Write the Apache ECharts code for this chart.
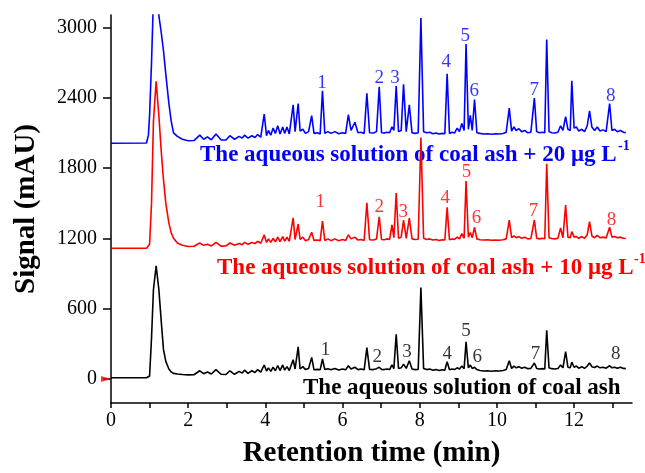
<!DOCTYPE html>
<html>
<head>
<meta charset="utf-8">
<script src="https://cdn.jsdelivr.net/npm/echarts@6/dist/echarts.min.js"></script>
<style>
  html, body { margin: 0; padding: 0; background: #fff; }
  #chart { width: 645px; height: 473px; }
</style>
</head>
<body>
<div id="chart"></div>
<script>
// retention time (min), shared by the three traces
var rt = [
  0, 0.92, 0.97, 1.0, 1.05, 1.1, 1.17, 1.24, 1.3, 1.36, 1.42, 1.5, 1.56, 1.62, 1.72, 1.85,
  2.0, 2.15, 2.3, 2.4, 2.5, 2.6, 2.72, 2.85, 2.98, 3.08, 3.2, 3.32, 3.4, 3.46, 3.55, 3.65, 3.73, 3.8, 3.88,
  3.97, 4.03, 4.08, 4.14, 4.2, 4.26, 4.32, 4.38, 4.45, 4.5, 4.56, 4.62, 4.72, 4.77, 4.85, 4.9, 4.97,
  5.04, 5.12, 5.2, 5.26, 5.35, 5.42, 5.48, 5.54, 5.62, 5.7, 5.8, 5.9, 6.0, 6.08, 6.15, 6.22, 6.32,
  6.4, 6.48, 6.56, 6.63, 6.7, 6.8, 6.88, 6.95, 7.01, 7.08, 7.15, 7.22, 7.28, 7.33, 7.39, 7.45, 7.52,
  7.58, 7.65, 7.73, 7.8, 7.88, 7.96, 8.03, 8.1, 8.18, 8.26, 8.34, 8.42, 8.5, 8.58, 8.65, 8.71, 8.77,
  8.84, 8.9, 8.97, 9.03, 9.09, 9.15, 9.2, 9.26, 9.31, 9.36, 9.42, 9.48, 9.56, 9.66, 9.76, 9.86, 9.96,
  10.06, 10.16, 10.24, 10.32, 10.38, 10.44, 10.5, 10.57, 10.64, 10.72, 10.8, 10.88, 10.97, 11.03, 11.1,
  11.18, 11.24, 11.29, 11.35, 11.42, 11.5, 11.58, 11.65, 11.71, 11.78, 11.84, 11.9, 11.94, 12.0, 12.06,
  12.12, 12.2, 12.27, 12.34, 12.4, 12.46, 12.53, 12.6, 12.67, 12.75, 12.83, 12.92, 12.98, 13.05, 13.12,
  13.2, 13.28, 13.34
];
// coal ash + 20 ug/L (blue)
var blue = [
  2011, 2013, 2080, 2250, 2700, 3250, 3450, 3100, 2960, 2800, 2600, 2350, 2200, 2100, 2070, 2045,
  2032, 2034, 2080, 2045, 2065, 2040, 2090, 2040, 2038, 2075, 2045, 2070, 2055, 2080, 2055, 2075, 2060, 2085, 2062,
  2260, 2075, 2120, 2080, 2140, 2095, 2160, 2090, 2150, 2095, 2150, 2090, 2339, 2110, 2350, 2115, 2130,
  2095, 2110, 2246, 2095, 2100, 2090, 2458, 2095, 2110, 2095, 2110, 2092, 2100, 2095, 2254, 2120, 2190,
  2100, 2105, 2095, 2438, 2100, 2098, 2110, 2492, 2100, 2098, 2105, 2100, 2151, 2120, 2500, 2110, 2120,
  2514, 2110, 2339, 2100, 2095, 2100, 3079, 2110, 2100, 2105, 2092, 2098, 2090, 2095, 2092, 2604, 2095,
  2105, 2098, 2140, 2110, 2180, 2120, 2858, 2130, 2249, 2120, 2384, 2100, 2095, 2090, 2092, 2088, 2092,
  2090, 2094, 2105, 2311, 2115, 2150, 2120, 2135, 2110, 2120, 2100, 2105, 2396, 2110, 2100,
  2105, 2100, 2896, 2110, 2100, 2098, 2105, 2160, 2120, 2237, 2130, 2120, 2543, 2140, 2150,
  2115, 2130, 2110, 2160, 2288, 2150, 2120, 2150, 2115, 2125, 2110, 2350, 2120, 2130, 2110,
  2120, 2105, 2100
];
// coal ash + 10 ug/L (red)
var red = [
  1115, 1115, 1120, 1150, 1500, 2200, 2540, 2250, 1950, 1700, 1500, 1330, 1246, 1200, 1160, 1140,
  1130, 1132, 1160, 1140, 1150, 1135, 1165, 1133, 1135, 1160, 1140, 1155, 1145, 1165, 1150, 1165, 1155, 1175, 1158,
  1229, 1165, 1195, 1165, 1200, 1170, 1210, 1172, 1215, 1175, 1210, 1175, 1375, 1190, 1322, 1190, 1210,
  1180, 1190, 1252, 1182, 1185, 1180, 1347, 1182, 1195, 1180, 1195, 1180, 1190, 1182, 1229, 1195, 1210,
  1185, 1190, 1182, 1503, 1188, 1185, 1195, 1384, 1190, 1188, 1195, 1190, 1314, 1205, 1587, 1200, 1210,
  1356, 1200, 1373, 1195, 1190, 1192, 2060, 1200, 1190, 1195, 1185, 1190, 1182, 1188, 1185, 1464, 1188,
  1195, 1190, 1210, 1195, 1240, 1200, 1689, 1210, 1250, 1205, 1294, 1195, 1188, 1185, 1187, 1183, 1186,
  1184, 1188, 1195, 1356, 1205, 1220, 1205, 1215, 1200, 1210, 1195, 1198, 1356, 1200, 1195,
  1200, 1196, 1836, 1205, 1198, 1195, 1200, 1288, 1205, 1483, 1210, 1205, 1257, 1210, 1215,
  1200, 1215, 1200, 1230, 1342, 1220, 1205, 1225, 1205, 1210, 1202, 1294, 1210, 1215, 1205,
  1210, 1200, 1198
];
// coal ash solution (black)
var black = [
  10, 10, 14, 25, 350, 763, 965, 763, 500, 250, 150, 85, 60, 48, 42, 38,
  35, 36, 70, 45, 60, 42, 80, 40, 38, 70, 40, 65, 50, 75, 48, 70, 55, 80, 58,
  119, 68, 95, 65, 100, 70, 115, 72, 120, 75, 105, 72, 164, 85, 274, 85, 105,
  80, 90, 184, 78, 82, 78, 170, 80, 88, 78, 90, 76, 85, 78, 113, 85, 100,
  80, 85, 78, 268, 82, 80, 88, 100, 82, 80, 85, 80, 120, 88, 381, 90, 95,
  127, 90, 155, 85, 80, 82, 780, 90, 80, 85, 75, 80, 72, 78, 75, 147, 78,
  85, 80, 95, 85, 110, 88, 316, 95, 119, 90, 100, 80, 72, 68, 70, 66, 70,
  68, 72, 80, 155, 90, 110, 95, 105, 92, 100, 88, 90, 136, 90, 85,
  88, 85, 415, 95, 88, 85, 90, 120, 95, 234, 100, 95, 144, 100, 110,
  92, 105, 90, 110, 136, 105, 98, 110, 95, 100, 92, 113, 95, 100, 92,
  100, 90, 88
];

// peak numbers and where they are written (time, signal)
var peakNames = ['1', '2', '3', '4', '5', '6', '7', '8'];
var blueLabelT = [5.47, 6.95, 7.36, 8.69, 9.18, 9.41, 10.97, 12.95];
var blueLabelV = [2525, 2568, 2568, 2704, 2924, 2458, 2466, 2415];
var redLabelT = [5.42, 6.95, 7.57, 8.66, 9.21, 9.47, 10.95, 12.97];
var redLabelV = [1509, 1466, 1424, 1542, 1763, 1373, 1432, 1356];
var blackLabelT = [5.56, 6.9, 7.67, 8.71, 9.2, 9.49, 11.0, 13.08];
var blackLabelV = [246, 186, 229, 212, 407, 186, 212, 212];

var yTicks = [0, 600, 1200, 1800, 2400, 3000];
var xLabels = [0, 2, 4, 6, 8, 10, 12];
var xTicks = [0, 1, 2, 3, 4, 5, 6, 7, 8, 9, 10, 11, 12, 13];

var serif = "'Liberation Serif', 'Times New Roman', serif";

function pairs(vals) {
  return rt.map(function (t, i) { return [t, vals[i]]; });
}
function labelData(ts, vs) {
  return peakNames.map(function (n, i) { return { name: n, value: [ts[i], vs[i]] }; });
}
function traceSeries(name, vals, color) {
  return {
    name: name,
    type: 'line',
    data: pairs(vals),
    symbol: 'none',
    smooth: false,
    clip: true,
    lineStyle: { color: color, width: 1.6 },
    silent: true
  };
}
function labelSeries(ts, vs, color) {
  return {
    type: 'scatter',
    data: labelData(ts, vs),
    symbolSize: 1,
    itemStyle: { color: 'rgba(0,0,0,0)' },
    silent: true,
    label: {
      show: true,
      position: 'inside',
      formatter: '{b}',
      color: color,
      fontFamily: serif,
      fontSize: 19
    }
  };
}

var myChart = echarts.init(document.getElementById('chart'));
myChart.setOption({
  animation: false,
  grid: { left: 111, right: 13, top: 15, bottom: 70 },
  xAxis: {
    type: 'value',
    min: 0,
    max: 13.5,
    name: 'Retention time (min)',
    nameLocation: 'middle',
    nameGap: 36,
    nameTextStyle: { fontFamily: serif, fontSize: 29, fontWeight: 'bold', color: '#000' },
    axisLine: { show: true, onZero: false, lineStyle: { color: '#000', width: 1.5 } },
    axisTick: { show: true, inside: false, length: 5, customValues: xTicks, lineStyle: { color: '#000', width: 1.5 } },
    axisLabel: { customValues: xLabels, margin: 8, fontFamily: serif, fontSize: 20, color: '#000' },
    splitLine: { show: false }
  },
  yAxis: {
    type: 'value',
    min: -205,
    max: 3105,
    name: 'Signal (mAU)',
    nameLocation: 'middle',
    nameGap: 70,
    nameTextStyle: { fontFamily: serif, fontSize: 29, fontWeight: 'bold', color: '#000' },
    axisLine: { show: true, onZero: false, lineStyle: { color: '#000', width: 1.5 } },
    axisTick: { show: true, inside: false, length: 8, customValues: yTicks, lineStyle: { color: '#000', width: 1.5 } },
    axisLabel: {
      customValues: yTicks,
      margin: 14,
      fontFamily: serif,
      fontSize: 20,
      color: '#000',
      formatter: function (v) { return String(v); }
    },
    splitLine: { show: false }
  },
  series: [
    traceSeries('20', blue, '#0000ff'),
    traceSeries('10', red, '#ff0000'),
    traceSeries('0', black, '#000000'),
    labelSeries(blueLabelT, blueLabelV, '#0000ff'),
    labelSeries(redLabelT, redLabelV, '#ff0000'),
    labelSeries(blackLabelT, blackLabelV, '#000000'),
    {
      // red marker on the zero line of the signal axis
      type: 'scatter',
      data: [[0, 0]],
      symbol: 'triangle',
      symbolSize: [6, 10],
      symbolRotate: -90,
      symbolOffset: [-5, 0],
      clip: false,
      silent: true,
      itemStyle: { color: '#ff0000' }
    }
  ],
  graphic: [
    { type: 'text', left: 200, top: 144, style: { text: 'The aqueous solution of coal ash + 20 μg L', fill: '#0000ff', font: 'bold 23px ' + serif } },
    { type: 'text', left: 618, top: 139, style: { text: '-1', fill: '#0000ff', font: 'bold 14px ' + serif } },
    { type: 'text', left: 217, top: 257, style: { text: 'The aqueous solution of coal ash + 10 μg L', fill: '#ff0000', font: 'bold 23px ' + serif } },
    { type: 'text', left: 634, top: 252, style: { text: '-1', fill: '#ff0000', font: 'bold 14px ' + serif } },
    { type: 'text', left: 303, top: 377, style: { text: 'The aqueous solution of coal ash', fill: '#000000', font: 'bold 23px ' + serif } }
  ]
});
</script>
</body>
</html>
